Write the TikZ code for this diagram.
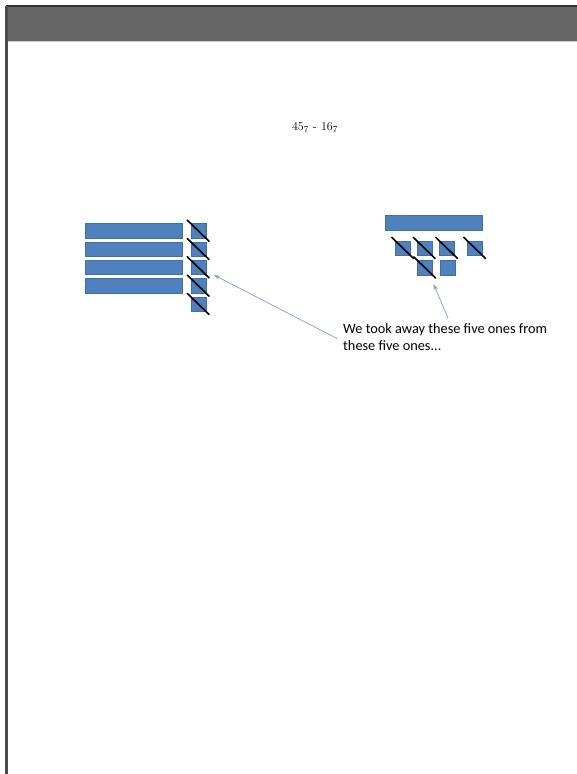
\documentclass[tikz,border=0pt]{standalone}
\usepackage{fontspec}
\newfontfamily\notefont{Carlito}
\usetikzlibrary{arrows.meta}
\definecolor{barblue}{HTML}{4F81BD}
\definecolor{barline}{HTML}{3F6EA8}
\definecolor{arrowblue}{HTML}{7FA0C8}
\definecolor{band}{HTML}{666666}
\tikzset{
  bar/.style={rectangle, anchor=north west, fill=barblue, draw=barline, line width=0.4pt, minimum width=97pt, minimum height=14.5pt, inner sep=0pt},
  unit/.style={rectangle, anchor=north west, fill=barblue, draw=barline, line width=0.4pt, minimum width=15pt, minimum height=14.5pt, inner sep=0pt},
  slash/.style={draw=black, line width=1.6pt, line cap=round, shorten <=-4.5pt, shorten >=-4.5pt},
  pointer/.style={draw=arrowblue, line width=0.7pt, -{Stealth[length=6pt,width=4pt]}}
}
\begin{document}
\begin{tikzpicture}[x=1pt,y=-1pt]
\useasboundingbox (0,0) rectangle (577,774);
% page frame
\fill[white] (0,0) rectangle (577,774);
\fill[band] (6.5,6.5) rectangle (577,41);
\draw[black!80, line width=1.6pt] (5.5,6) -- (577,6);
\draw[black!20, line width=1.2pt] (8,41.8) -- (577,41.8);
\draw[black!70, line width=2.8pt] (6.8,5.5) -- (6.8,774);
% title
\node[font=\fontsize{12.5}{15}\selectfont] (title) at (315,127.5) {$45_7$ - $16_7$};
% left group: four bars and five units
\node[bar] (b1) at (85,223.3) {};
\node[bar] (b2) at (85,241.6) {};
\node[bar] (b3) at (85,259.9) {};
\node[bar] (b4) at (85,278.2) {};
\node[unit] (u1) at (190.5,223.3) {};
\node[unit] (u2) at (190.5,241.6) {};
\node[unit] (u3) at (190.5,259.9) {};
\node[unit] (u4) at (190.5,278.2) {};
\node[unit] (u5) at (190.5,296.5) {};
\foreach \n in {u1,u2,u3,u4,u5} \draw[slash] (\n.north west) -- (\n.south east);
% right group: one bar and six units
\node[bar] (rb) at (385,215) {};
\node[unit] (r1) at (395,240.5) {};
\node[unit] (r2) at (416.5,240.5) {};
\node[unit] (r3) at (439,240.5) {};
\node[unit] (r4) at (467,240.5) {};
\node[unit] (r5) at (417,260) {};
\node[unit] (r6) at (440,260) {};
\foreach \n in {r1,r2,r3,r4,r5} \draw[slash] (\n.north west) -- (\n.south east);
% note
\node[anchor=north west, inner sep=0pt, align=left, font=\notefont\fontsize{14.3}{17}\selectfont] (note) at (343,323)
  {We took away these five ones from\\these five ones...};
\coordinate (lhead) at (214,275);
\coordinate (ltail) at (337,338.5);
\coordinate (rhead) at (433.5,284);
\coordinate (rtail) at (448,318);
\draw[pointer] (ltail) -- (lhead);
\draw[pointer] (rtail) -- (rhead);
\end{tikzpicture}
\end{document}
